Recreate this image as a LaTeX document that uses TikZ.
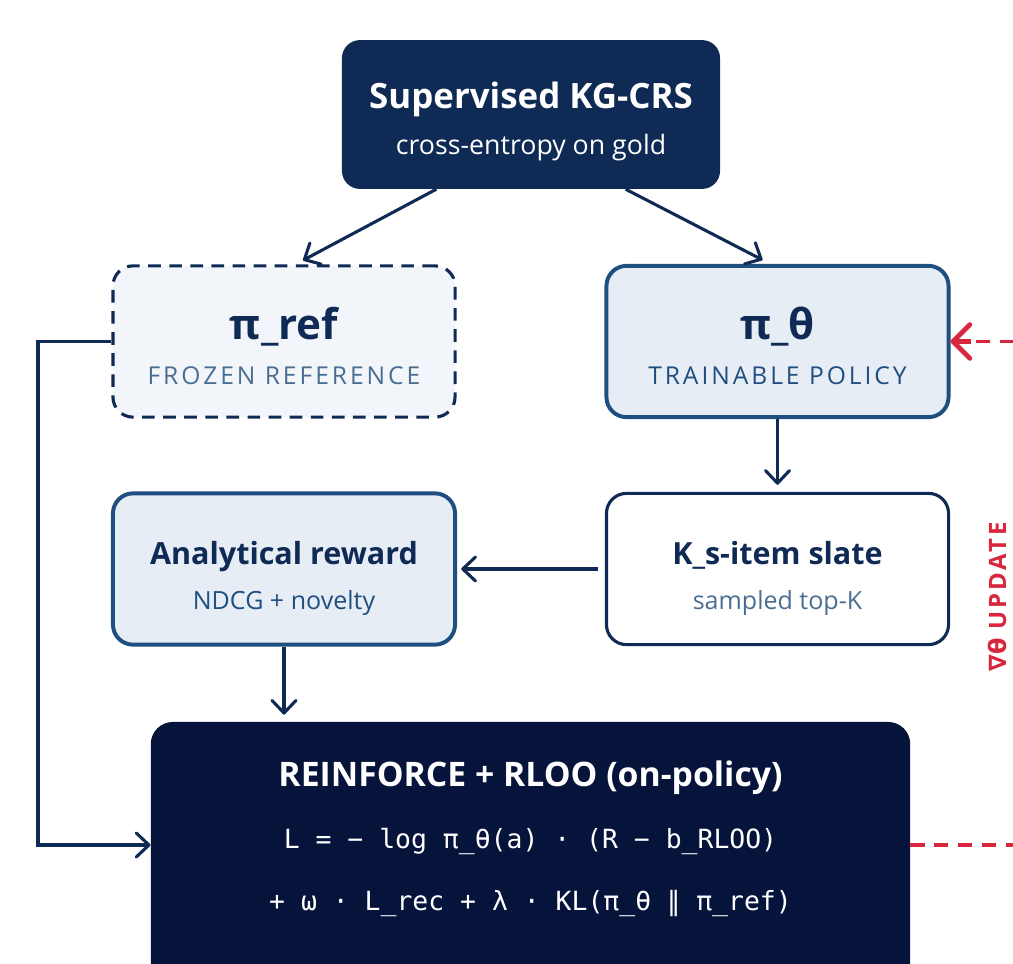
\documentclass[tikz,border=0pt]{standalone}
\usepackage{fontspec}
\setmainfont{Open Sans}
\setmonofont{DejaVu Sans Mono}
\newfontfamily\capsfont[LetterSpace=12]{Open Sans}
\newfontfamily\symfont{DejaVu Sans}
\usetikzlibrary{arrows.meta, calc}

\definecolor{navy}{HTML}{0F2A55}
\definecolor{deepnavy}{HTML}{06133A}
\definecolor{steel}{HTML}{1F4E80}
\definecolor{slatefill}{HTML}{E7EDF5}
\definecolor{reffill}{HTML}{F2F6FA}
\definecolor{greyblue}{HTML}{4A6D91}
\definecolor{updred}{HTML}{D7263D}

\begin{document}
\begin{tikzpicture}[
    x=0.025cm, y=-0.025cm,
    box/.style={rectangle, rounded corners=0.5cm, inner sep=0pt, minimum width=8.55cm, minimum height=3.78cm},
    title/.style={anchor=base, inner sep=0pt, font=\bfseries\fontsize{21.7}{26}\selectfont, text=navy},
    sub/.style={anchor=base, inner sep=0pt, font=\fontsize{17.8}{21}\selectfont, text=greyblue},
    mono/.style={anchor=base, inner sep=0pt, font=\ttfamily\fontsize{18.8}{22}\selectfont, text=white},
    arr/.style={draw=navy, line width=2.2pt, -{Straight Barb[length=9pt, width=17pt, line cap=round, line join=round]}},
    upd/.style={draw=updred, line width=2.2pt, dash pattern=on 10pt off 7pt},
]
    \useasboundingbox (0,0) rectangle (1013,964);

    % Supervised model
    \node[box, fill=navy, minimum width=9.45cm, minimum height=3.72cm, rounded corners=0.45cm] (sup) at (531,114.5) {};
    \node[title, text=white, font=\bfseries\fontsize{24.8}{29}\selectfont] (sup_title) at (531,109) {Supervised KG-CRS};
    \node[sub, text=white, font=\fontsize{19}{22}\selectfont] (sup_sub) at (531,155) {cross-entropy on gold};

    % Reference and trainable policy
    \node[box, fill=reffill, draw=navy, line width=2.2pt, dash pattern=on 9pt off 6pt] (ref) at (284,341.5) {};
    \node[title, font=\bfseries\fontsize{30}{34}\selectfont] (ref_title) at (284,340) {π\_ref};
    \node[sub, font=\capsfont\fontsize{17.5}{21}\selectfont] (ref_sub) at (284,385) {FROZEN REFERENCE};

    \node[box, fill=slatefill, draw=steel, line width=2.8pt] (pol) at (777.5,341.5) {};
    \node[title, font=\bfseries\fontsize{30}{34}\selectfont] (pol_title) at (777.5,340) {π\_θ};
    \node[sub, text=steel, font=\capsfont\fontsize{17.5}{21}\selectfont] (pol_sub) at (777.5,385) {TRAINABLE POLICY};

    % Reward and slate
    \node[box, fill=slatefill, draw=steel, line width=2.8pt] (rew) at (284,569) {};
    \node[title] (rew_title) at (284,564) {Analytical reward};
    \node[sub, text=steel] (rew_sub) at (284,609) {NDCG + novelty};

    \node[box, fill=white, draw=navy, line width=2.2pt] (slate) at (777.5,569) {};
    \node[title] (slate_title) at (777.5,564) {K\_s-item slate};
    \node[sub] (slate_sub) at (777.5,609) {sampled top-K};

    % Policy-gradient update
    \node[box, fill=deepnavy, minimum width=18.98cm, minimum height=6.95cm, rounded corners=0.55cm] (rl) at (530.5,861) {};
    \node[title, text=white, font=\bfseries\fontsize{24}{28}\selectfont] (rl_title) at (530.5,786) {REINFORCE + RLOO (on-policy)};
    \node[mono] (rl_loss) at (530.5,848) {L = − log π\_θ(a) · (R − b\_RLOO)};
    \node[mono] (rl_reg) at (530.5,910) {+ ω · L\_rec + λ · KL(π\_θ {\symfont ‖} π\_ref)};

    % Arrows
    \draw[arr] ($(sup.south)!.5!(sup.south west)$) -- ($(ref.north)+(19,-4)$);
    \draw[arr] ($(sup.south)!.5!(sup.south east)$) -- ($(pol.north)+(-15,-4)$);
    \draw[arr, shorten >=5pt] (pol.south) -- (slate.north);
    \draw[arr, shorten <=5pt, shorten >=3pt] (slate.west) -- (rew.east);
    \draw[arr, shorten >=5pt] (rew.south) -- (rew.south |- rl.north);

    \coordinate (loop) at (38,845);
    \draw[arr] (ref.west) -- (ref.west -| loop) -- (loop) -- (loop -| rl.west);

    % Gradient feedback
    \coordinate (back) at (1045,845);
    \draw[upd] (back -| rl.east) -- (back) -- (back |- pol.east) -- ($(pol.east)+(20,0)$);
    \draw[updred, line width=3.4pt, -{Straight Barb[length=12pt, width=24pt, line cap=round, line join=round]}] ($(pol.east)+(20,0)$) -- (pol.east);
    \node[rotate=90, text=updred, inner sep=0pt, font=\bfseries\capsfont\fontsize{17}{20}\selectfont] (upd_label) at (997,597) {{\symfont ∇θ} UPDATE};
\end{tikzpicture}
\end{document}
